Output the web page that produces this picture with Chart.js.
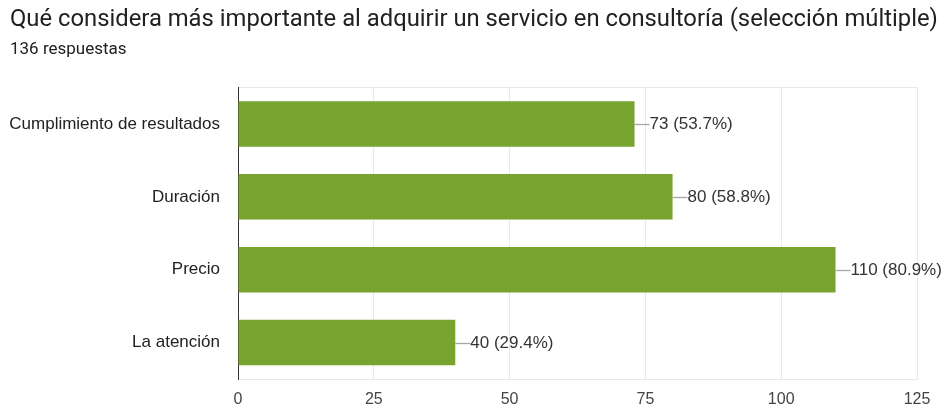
<!DOCTYPE html>
<html>
<head>
<meta charset="utf-8">
<script src="https://cdn.jsdelivr.net/npm/chart.js@4/dist/chart.umd.min.js"></script>
<style>
html,body{margin:0;padding:0;background:#fff;}
#wrap{width:945px;height:409px;position:relative;}
</style>
</head>
<body>
<div id="wrap"><canvas id="c"></canvas></div>
<script>
const titleText = 'Qué considera más importante al adquirir un servicio en consultoría (selección múltiple)';
const subtitleText = '136 respuestas';
const categories = ['Cumplimiento de resultados', 'Duración', 'Precio', 'La atención'];
const counts = [73, 80, 110, 40];
const percentLabels = ['53.7%', '58.8%', '80.9%', '29.4%'];
const xTicks = [0, 25, 50, 75, 100, 125];

const headerPlugin = {
  id: 'header',
  afterDraw(chart) {
    const ctx = chart.ctx;
    ctx.save();
    ctx.fillStyle = '#212121';
    ctx.textAlign = 'left';
    ctx.textBaseline = 'alphabetic';
    ctx.font = '23.8px Roboto';
    ctx.fillText(titleText, 10, 25.5);
    ctx.font = '17px Roboto';
    ctx.fillText(subtitleText, 10, 53.5);
    ctx.restore();
  }
};

const labelPlugin = {
  id: 'barLabels',
  afterDatasetsDraw(chart) {
    const ctx = chart.ctx;
    const meta = chart.getDatasetMeta(0);
    ctx.save();
    meta.data.forEach((bar, i) => {
      const x = bar.x, y = Math.round(bar.y) + 0.5;
      ctx.strokeStyle = '#a6a6a6';
      ctx.lineWidth = 1.3;
      ctx.beginPath();
      ctx.moveTo(x, y);
      ctx.lineTo(x + 15, y);
      ctx.stroke();
      ctx.fillStyle = '#333333';
      ctx.font = '17px "Liberation Sans", Arial, sans-serif';
      ctx.textAlign = 'left';
      ctx.textBaseline = 'middle';
      ctx.fillText(counts[i] + ' (' + percentLabels[i] + ')', x + 15, y);
    });
    ctx.restore();
  }
};

new Chart(document.getElementById('c'), {
  type: 'bar',
  data: {
    labels: categories,
    datasets: [{
      data: counts,
      backgroundColor: '#77a32f',
      borderWidth: 0,
      categoryPercentage: 1,
      barPercentage: 0.625
    }]
  },
  options: {
    indexAxis: 'y',
    responsive: true,
    maintainAspectRatio: false,
    animation: false,
    layout: { padding: { left: 10, right: 28, top: 87.5, bottom: 0 } },
    plugins: {
      legend: { display: false },
      tooltip: { enabled: false },
      title: { display: false },
      subtitle: { display: false }
    },
    scales: {
      x: {
        type: 'linear',
        min: xTicks[0],
        max: xTicks[xTicks.length - 1],
        afterBuildTicks(scale) { scale.ticks = xTicks.map(v => ({ value: v })); },
        afterFit(scale) { scale.height = 30; },
        grid: { color: '#e8e8e8', drawTicks: false, lineWidth: 1 },
        border: { display: true, color: '#e8e8e8' },
        ticks: {
          color: '#444444',
          padding: 11,
          font: { family: '"Liberation Sans", Arial, sans-serif', size: 16 }
        }
      },
      y: {
        afterFit(scale) { scale.width = 228; },
        grid: {
          drawTicks: false,
          color: (c) => (c.index === 0 || c.index === categories.length) ? '#e8e8e8' : 'rgba(0,0,0,0)'
        },
        border: { display: true, color: '#333333', width: 1 },
        ticks: {
          color: '#222222',
          padding: 18,
          font: { family: '"Liberation Sans", Arial, sans-serif', size: 17 }
        }
      }
    }
  },
  plugins: [labelPlugin, headerPlugin]
});
</script>
</body>
</html>
